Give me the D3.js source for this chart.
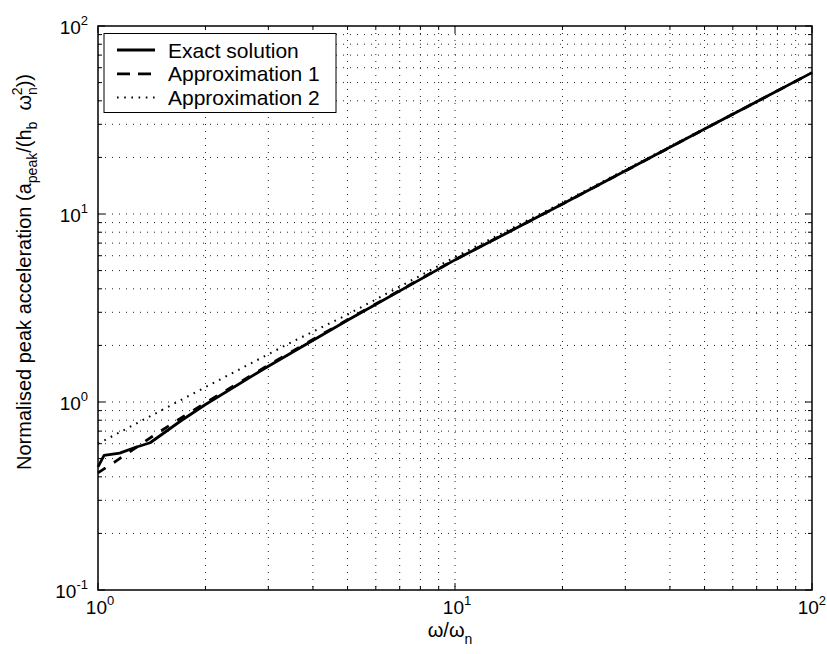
<!DOCTYPE html>
<html>
<head>
<meta charset="utf-8">
<script src="https://cdn.jsdelivr.net/npm/d3@7"></script>
<style>
  html, body { margin: 0; padding: 0; background: #fff; }
  svg { display: block; font-family: "Liberation Sans", Arial, Helvetica, sans-serif; }
</style>
</head>
<body>
<svg id="chart" width="827" height="654"></svg>
<script>
// Frequency ratio ω/ωn and normalised peak acceleration for each curve
const exactX   = [1, 1.04, 1.15, 1.27, 1.4, 1.7, 2, 3, 5, 10, 20, 50, 100];
const exactY   = [0.452, 0.52, 0.535, 0.573, 0.607, 0.79, 0.97, 1.55, 2.72, 5.7, 11.3, 28.3, 56.5];
const approx1X = [1, 1.12, 1.43, 1.75, 2, 3, 5, 10, 20, 50, 100];
const approx1Y = [0.42, 0.483, 0.662, 0.846, 0.99, 1.57, 2.74, 5.72, 11.3, 28.3, 56.5];
const approx2X = [1, 2, 3.38, 5, 10, 20, 50, 100];
const approx2Y = [0.6, 1.2, 2.02, 2.92, 5.9, 11.5, 28.5, 56.6];

const seriesNames = ["Exact solution", "Approximation 1", "Approximation 2"];
const xTickExps = [0, 1, 2];
const yTickExps = [-1, 0, 1, 2];

const svg = d3.select("#chart");
const plotL = 98, plotR = 812, plotT = 26, plotB = 590;

const x = d3.scaleLog().domain([1, 100]).range([plotL, plotR]);
const y = d3.scaleLog().domain([0.1, 100]).range([plotB, plotT]);

// all decade subdivisions for grid and ticks
function logValues(lo, hi) {
  const out = [];
  for (let e = lo; e < hi; e++) {
    for (let m = 1; m < 10; m++) out.push(m * Math.pow(10, e));
  }
  out.push(Math.pow(10, hi));
  return out;
}
const xVals = logValues(0, 2);
const yVals = logValues(-1, 2);
const isMajor = v => Math.abs(Math.log10(v) - Math.round(Math.log10(v))) < 1e-9;

// dotted grid
const grid = svg.append("g")
  .attr("stroke", "#222")
  .attr("stroke-width", 1)
  .attr("stroke-dasharray", "1,6");
grid.selectAll(".gx").data(xVals.filter(v => v > 1 && v < 100)).join("line")
  .attr("x1", d => x(d)).attr("x2", d => x(d))
  .attr("y1", plotT).attr("y2", plotB);
grid.selectAll(".gy").data(yVals.filter(v => v > 0.1 && v < 100)).join("line")
  .attr("y1", d => y(d)).attr("y2", d => y(d))
  .attr("x1", plotL).attr("x2", plotR);

// inward ticks on all four sides
const ticks = svg.append("g").attr("stroke", "#000").attr("stroke-width", 1);
xVals.forEach(v => {
  const L = isMajor(v) ? 7 : 4;
  ticks.append("line").attr("x1", x(v)).attr("x2", x(v)).attr("y1", plotB).attr("y2", plotB - L);
  ticks.append("line").attr("x1", x(v)).attr("x2", x(v)).attr("y1", plotT).attr("y2", plotT + L);
});
yVals.forEach(v => {
  const L = isMajor(v) ? 7 : 4;
  ticks.append("line").attr("y1", y(v)).attr("y2", y(v)).attr("x1", plotL).attr("x2", plotL + L);
  ticks.append("line").attr("y1", y(v)).attr("y2", y(v)).attr("x1", plotR).attr("x2", plotR - L);
});

// data curves
const line = d3.line().x(d => x(d[0])).y(d => y(d[1]));
const zip = (a, b) => a.map((v, i) => [v, b[i]]);
const plot = svg.append("g").attr("fill", "none").attr("stroke", "#000")
  .attr("stroke-linejoin", "round");

plot.append("path").datum(zip(approx2X, approx2Y))
  .attr("d", line).attr("stroke-width", 2).attr("stroke-dasharray", "1.6,5.6");
plot.append("path").datum(zip(approx1X, approx1Y))
  .attr("d", line).attr("stroke-width", 2.8).attr("stroke-dasharray", "9,10");
plot.append("path").datum(zip(exactX, exactY))
  .attr("d", line).attr("stroke-width", 2.8);

// axes frame
svg.append("rect").attr("x", plotL).attr("y", plotT)
  .attr("width", plotR - plotL).attr("height", plotB - plotT)
  .attr("fill", "none").attr("stroke", "#000").attr("stroke-width", 1.5);

// tick labels
const tickFont = 19;
xTickExps.forEach((e, i) => {
  const last = i === xTickExps.length - 1;
  const t = svg.append("text")
    .attr("x", last ? 826 : x(Math.pow(10, e)) + 2).attr("y", 614)
    .attr("text-anchor", last ? "end" : "middle").attr("font-size", tickFont);
  t.append("tspan").text("10");
  t.append("tspan").attr("dy", -9).attr("font-size", 13).text(String(e));
});
yTickExps.forEach(e => {
  const t = svg.append("text").attr("x", 88).attr("y", y(Math.pow(10, e)) + 8)
    .attr("text-anchor", "end").attr("font-size", tickFont);
  t.append("tspan").text("10");
  t.append("tspan").attr("dy", -9).attr("font-size", 13).text(String(e));
});

// x label ω/ωn
const xl = svg.append("text").attr("x", 450).attr("y", 637)
  .attr("text-anchor", "middle").attr("font-size", 20);
xl.append("tspan").text("ω/ω");
xl.append("tspan").attr("dy", 7).attr("font-size", 14).text("n");

// y label
const yl = svg.append("text")
  .attr("transform", "translate(31,272) rotate(-90)")
  .attr("text-anchor", "middle").attr("font-size", 20);
yl.append("tspan").text("Normalised peak acceleration (a");
yl.append("tspan").attr("dy", 6).attr("font-size", 14).text("peak");
yl.append("tspan").attr("dy", -6).text("/(h");
yl.append("tspan").attr("dy", 6).attr("font-size", 14).text("b");
yl.append("tspan").attr("dy", -6).text("\u00a0\u00a0ω");
yl.append("tspan").attr("dy", 6).attr("font-size", 14).text("n");
yl.append("tspan").attr("dy", -15).attr("dx", -8).attr("font-size", 14).text("2");
yl.append("tspan").attr("dy", 9).text("))");

// legend
const lg = svg.append("g");
lg.append("rect").attr("x", 104).attr("y", 33.5).attr("width", 232).attr("height", 79)
  .attr("fill", "#fff").attr("stroke", "#000").attr("stroke-width", 1);
const legendRows = [
  { name: seriesNames[0], dash: null, w: 2.8 },
  { name: seriesNames[1], dash: "13,8", w: 2.8 },
  { name: seriesNames[2], dash: "1.6,5.6", w: 2 }
];
legendRows.forEach((r, i) => {
  const cy = 50 + i * 23.8;
  lg.append("line").attr("x1", 117).attr("x2", 155).attr("y1", cy).attr("y2", cy)
    .attr("stroke", "#000").attr("stroke-width", r.w)
    .attr("stroke-dasharray", r.dash);
  lg.append("text").attr("x", 168).attr("y", cy + 7.5)
    .attr("font-size", 21).text(r.name);
});
</script>
</body>
</html>
